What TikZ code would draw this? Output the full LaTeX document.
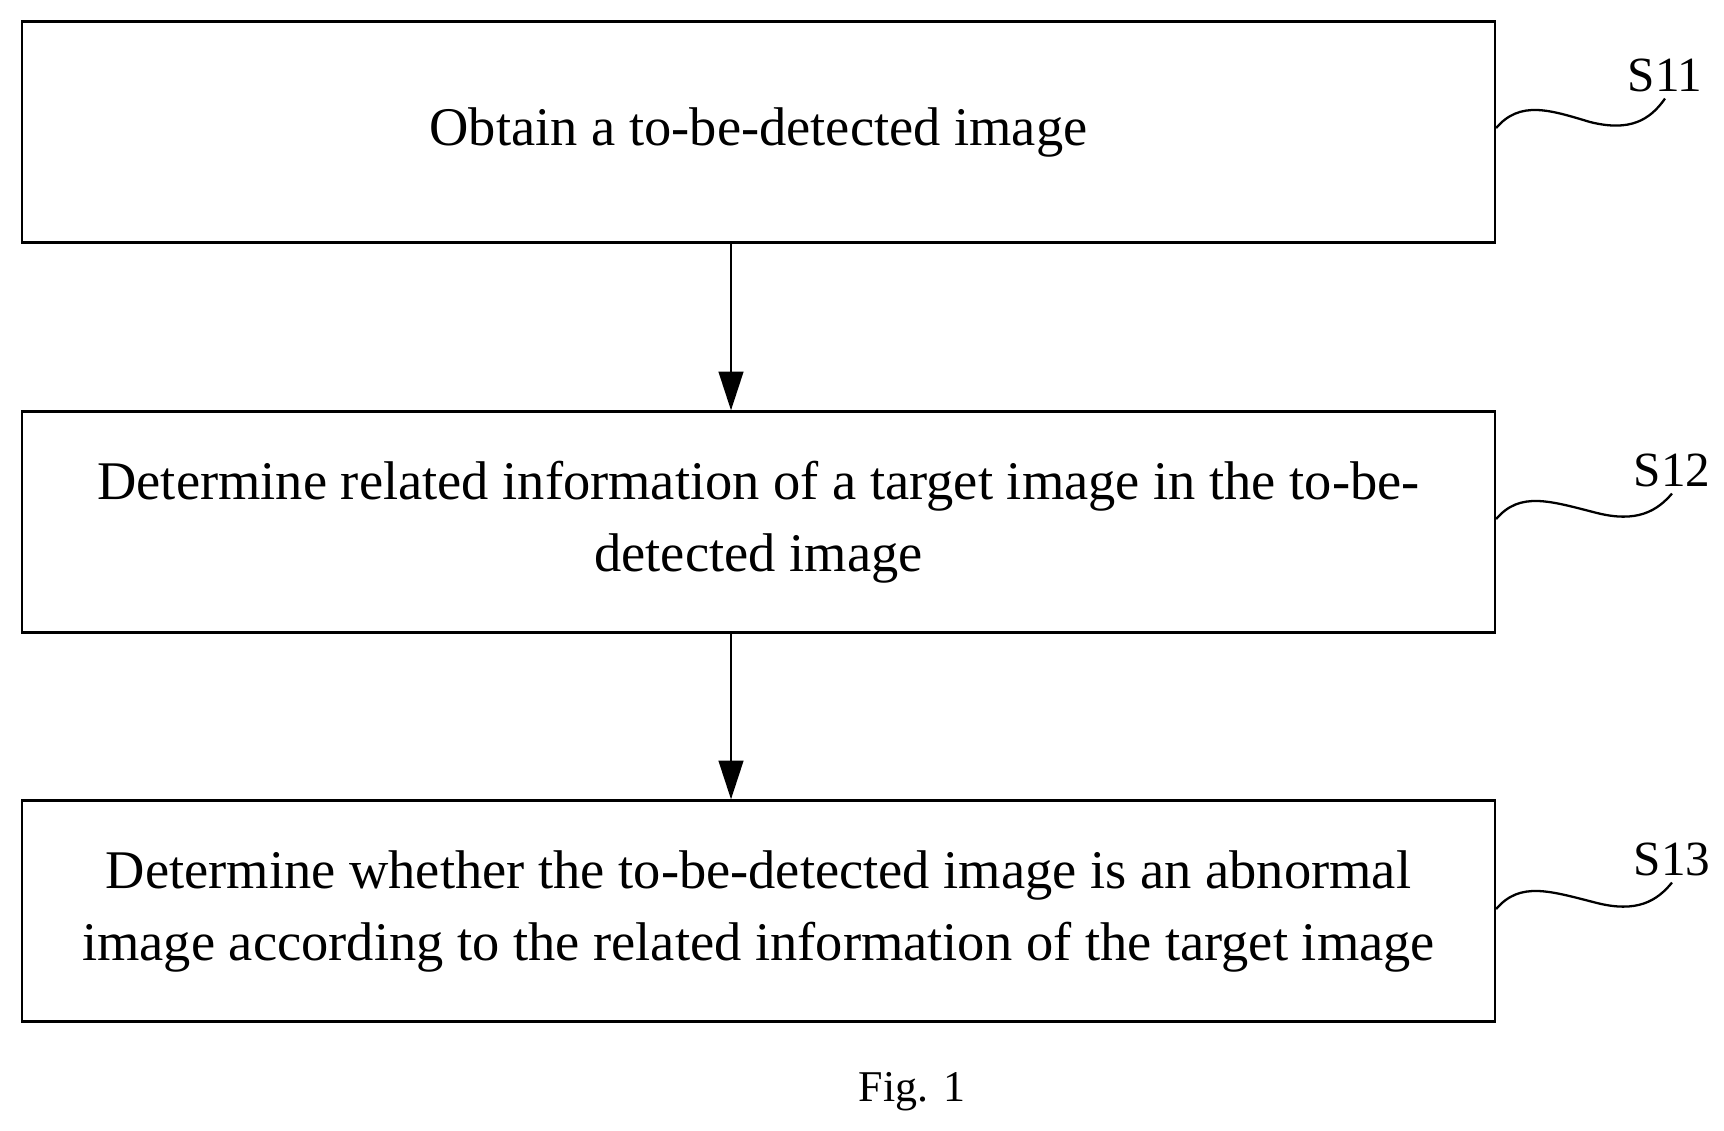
\documentclass[tikz,border=0pt]{standalone}
\usepackage{fontspec}
\setmainfont{Liberation Serif}
\usetikzlibrary{arrows.meta}
\begin{document}
\begin{tikzpicture}[x=0.02cm, y=-0.02cm, line width=1.3pt]
	\tikzstyle{stepbox}=[draw, minimum width=1473*0.02cm, minimum height=221*0.02cm, align=center, font=\fontsize{31}{41}\selectfont]
	\tikzstyle{lbl}=[font=\fontsize{28}{32}\selectfont]
	\useasboundingbox (0,0) rectangle (1724,1130);
		\node[stepbox] (b1) at (758.5,132) {Obtain a to-be-detected image};
		\node[stepbox] (b2) at (758.5,522) {Determine related information of a target image in the to-be-\\detected image};
		\node[stepbox] (b3) at (758.5,911) {Determine whether the to-be-detected image is an abnormal\\image according to the related information of the target image};
		
		\node[lbl] (l1) at (1665,75) {S11};
		\node[lbl] (l2) at (1672,470) {S12};
		\node[lbl] (l3) at (1672,859) {S13};
		
		\node[font=\fontsize{25}{28}\selectfont] (fig) at (912,1092) {Fig. 1};
		
		%========================================================================
		% Arrows
		\draw[-{Triangle[length=22pt, width=14pt]}] (b1.south -| 731,0) to (b2.north -| 731,0);
		\draw[-{Triangle[length=22pt, width=14pt]}] (b2.south -| 731,0) to (b3.north -| 731,0);
		
		\draw (b1.east |- 0,128) .. controls (1520,100) and (1550,110) .. (1590,122) .. controls (1630,132) and (1650,120) .. (l1.south);
		\draw (b2.east |- 0,519) .. controls (1520,491) and (1550,501) .. (1597,513) .. controls (1637,523) and (1657,511) .. (l2.south);
		\draw (b3.east |- 0,909) .. controls (1520,881) and (1550,891) .. (1597,903) .. controls (1637,913) and (1657,901) .. (l3.south);
\end{tikzpicture}
\end{document}
